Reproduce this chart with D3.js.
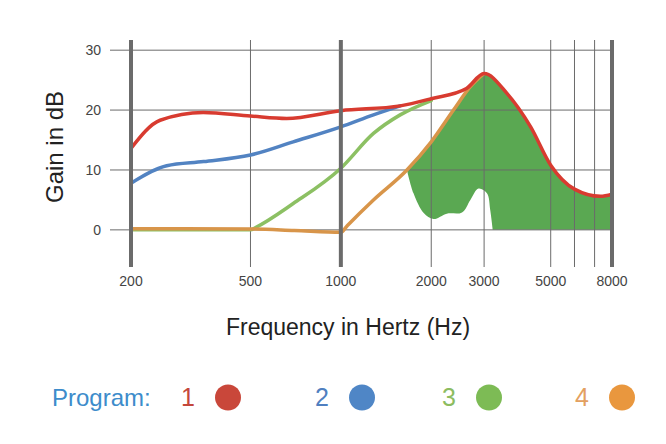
<!DOCTYPE html>
<html>
<head>
<meta charset="utf-8">
<script src="https://cdn.jsdelivr.net/npm/d3@7"></script>
<style>
  body { margin: 0; background: #fff; }
  svg { display: block; font-family: "Liberation Sans", Arial, sans-serif; }
</style>
</head>
<body>
<svg id="chart"></svg>
<script>
// frequency (Hz), gain (dB)
var program1 = [[200,13.6],[250,18.3],[348,19.6],[500,19.0],[660,18.6],[1000,19.9],[1576,20.7],[2000,21.9],[2620,23.6],[3000,26.1],[3574,22.8],[4287,17.2],[5000,10.8],[6000,6.8],[7320,5.6],[8000,5.95]];
var program2 = [[200,7.8],[263,10.7],[349,11.4],[500,12.5],[694,14.7],[1000,17.2],[1284,19.2],[1576,20.7]];
var program3 = [[200,0],[500,0],[520,0.4],[694,4.4],[1000,10.3],[1284,16.1],[1576,19.2],[2000,21.6]];
var program4 = [[200,0.2],[500,0.15],[700,-0.1],[1000,-0.4],[1050,0.7],[1284,5],[1660,10],[2000,14.7],[2372,20],[2700,23.9],[3000,26.1]];
// lower edge of the green shaded band
var bandLower = [[1660,10],[1746,6.1],[1888,2.8],[2034,1.8],[2254,2.7],[2532,2.9],[2700,5.0],[2874,6.9],[3066,6.1],[3144,3.3],[3206,0]];
var bandFloor = [[3206,0],[8000,0]];

var xTicks = [200, 500, 1000, 2000, 3000, 5000, 8000];
var xGrid = [500, 2000, 3000, 5000, 6000, 7000];
var xMajor = [200, 1000, 8000];
var yTicks = [0, 10, 20, 30];
var programs = ["1", "2", "3", "4"];

var width = 666, height = 444;
var svg = d3.select("#chart").attr("width", width).attr("height", height);

var x = d3.scaleLog().domain([200, 8000]).range([131, 612]);
var y = d3.scaleLinear().domain([-6.2, 31.7]).range([267, 40]);

var line = d3.line()
  .x(function(d) { return x(d[0]); })
  .y(function(d) { return y(d[1]); })
  .curve(d3.curveMonotoneX);

// shaded band: top follows program 4 then program 1, bottom is floor + bandLower
var upper = program4.filter(function(d) { return d[0] >= 1660; })
  .concat(program1.filter(function(d) { return d[0] > 3000; }));
var floorPath = d3.line()
  .x(function(d) { return x(d[0]); })
  .y(function(d) { return y(d[1]); })(bandFloor.slice().reverse());
var lowerPath = d3.line()
  .x(function(d) { return x(d[0]); })
  .y(function(d) { return y(d[1]); })
  .curve(d3.curveCatmullRom.alpha(0.5))(bandLower.slice().reverse());
svg.append("path")
  .attr("d", line(upper) + floorPath.replace(/^M/, "L") + lowerPath.replace(/^M/, "L") + "Z")
  .attr("fill", "#5aa852");

// grid
svg.selectAll(".hgrid")
  .data(yTicks)
  .enter().append("line")
  .attr("x1", 110).attr("x2", 612)
  .attr("y1", function(d) { return y(d); })
  .attr("y2", function(d) { return y(d); })
  .attr("stroke", "#6b6b6b").attr("stroke-width", 1);

svg.selectAll(".vgrid")
  .data(xGrid)
  .enter().append("line")
  .attr("x1", function(d) { return x(d); })
  .attr("x2", function(d) { return x(d); })
  .attr("y1", 40).attr("y2", 267)
  .attr("stroke", "#6b6b6b").attr("stroke-width", 1);

svg.selectAll(".ylab")
  .data(yTicks)
  .enter().append("text")
  .attr("x", 101)
  .attr("y", function(d) { return y(d) + 5; })
  .attr("text-anchor", "end")
  .attr("font-size", 14)
  .attr("fill", "#444")
  .text(function(d) { return d; });

svg.selectAll(".xlab")
  .data(xTicks)
  .enter().append("text")
  .attr("x", function(d) { return x(d); })
  .attr("y", 286)
  .attr("text-anchor", "middle")
  .attr("font-size", 14)
  .attr("fill", "#444")
  .text(function(d) { return d; });

// curves
var series = [
  { data: program3, color: "#8cc063" },
  { data: program4, color: "#d8954a" },
  { data: program2, color: "#5283c2" },
  { data: program1, color: "#d83b30" }
];
svg.selectAll(".curve")
  .data(series)
  .enter().append("path")
  .attr("d", function(d) { return line(d.data); })
  .attr("fill", "none")
  .attr("stroke", function(d) { return d.color; })
  .attr("stroke-width", 3.5)
  .attr("stroke-linecap", "round");

svg.selectAll(".major")
  .data(xMajor)
  .enter().append("line")
  .attr("x1", function(d) { return x(d); })
  .attr("x2", function(d) { return x(d); })
  .attr("y1", 40).attr("y2", 267)
  .attr("stroke", "#6b6b6b").attr("stroke-width", 4);

// axis titles
svg.append("text")
  .attr("transform", "translate(63,147) rotate(-90)")
  .attr("text-anchor", "middle")
  .attr("font-size", 24)
  .attr("fill", "#222")
  .text("Gain in dB");

svg.append("text")
  .attr("x", 348).attr("y", 335)
  .attr("text-anchor", "middle")
  .attr("font-size", 23)
  .attr("fill", "#222")
  .text("Frequency in Hertz (Hz)");

// legend
var legendText = ["#c4473b", "#4f7fc0", "#8cbc60", "#e3a060"];
var legendDot = ["#c9473a", "#4f86c6", "#7dbb55", "#e9973e"];
var legendX = [228, 362, 489, 622];

svg.append("text")
  .attr("x", 52).attr("y", 406)
  .attr("font-size", 24)
  .attr("font-family", "'Liberation Sans Narrow', 'Liberation Sans', sans-serif")
  .attr("fill", "#3d8ccb")
  .text("Program:");

var leg = svg.selectAll(".leg")
  .data(programs)
  .enter().append("g");
leg.append("text")
  .attr("x", function(d, i) { return legendX[i] - 40; })
  .attr("y", 406)
  .attr("text-anchor", "middle")
  .attr("font-size", 25)
  .attr("fill", function(d, i) { return legendText[i]; })
  .text(function(d) { return d; });
leg.append("circle")
  .attr("cx", function(d, i) { return legendX[i]; })
  .attr("cy", 397.5)
  .attr("r", 13)
  .attr("fill", function(d, i) { return legendDot[i]; });
</script>
</body>
</html>
